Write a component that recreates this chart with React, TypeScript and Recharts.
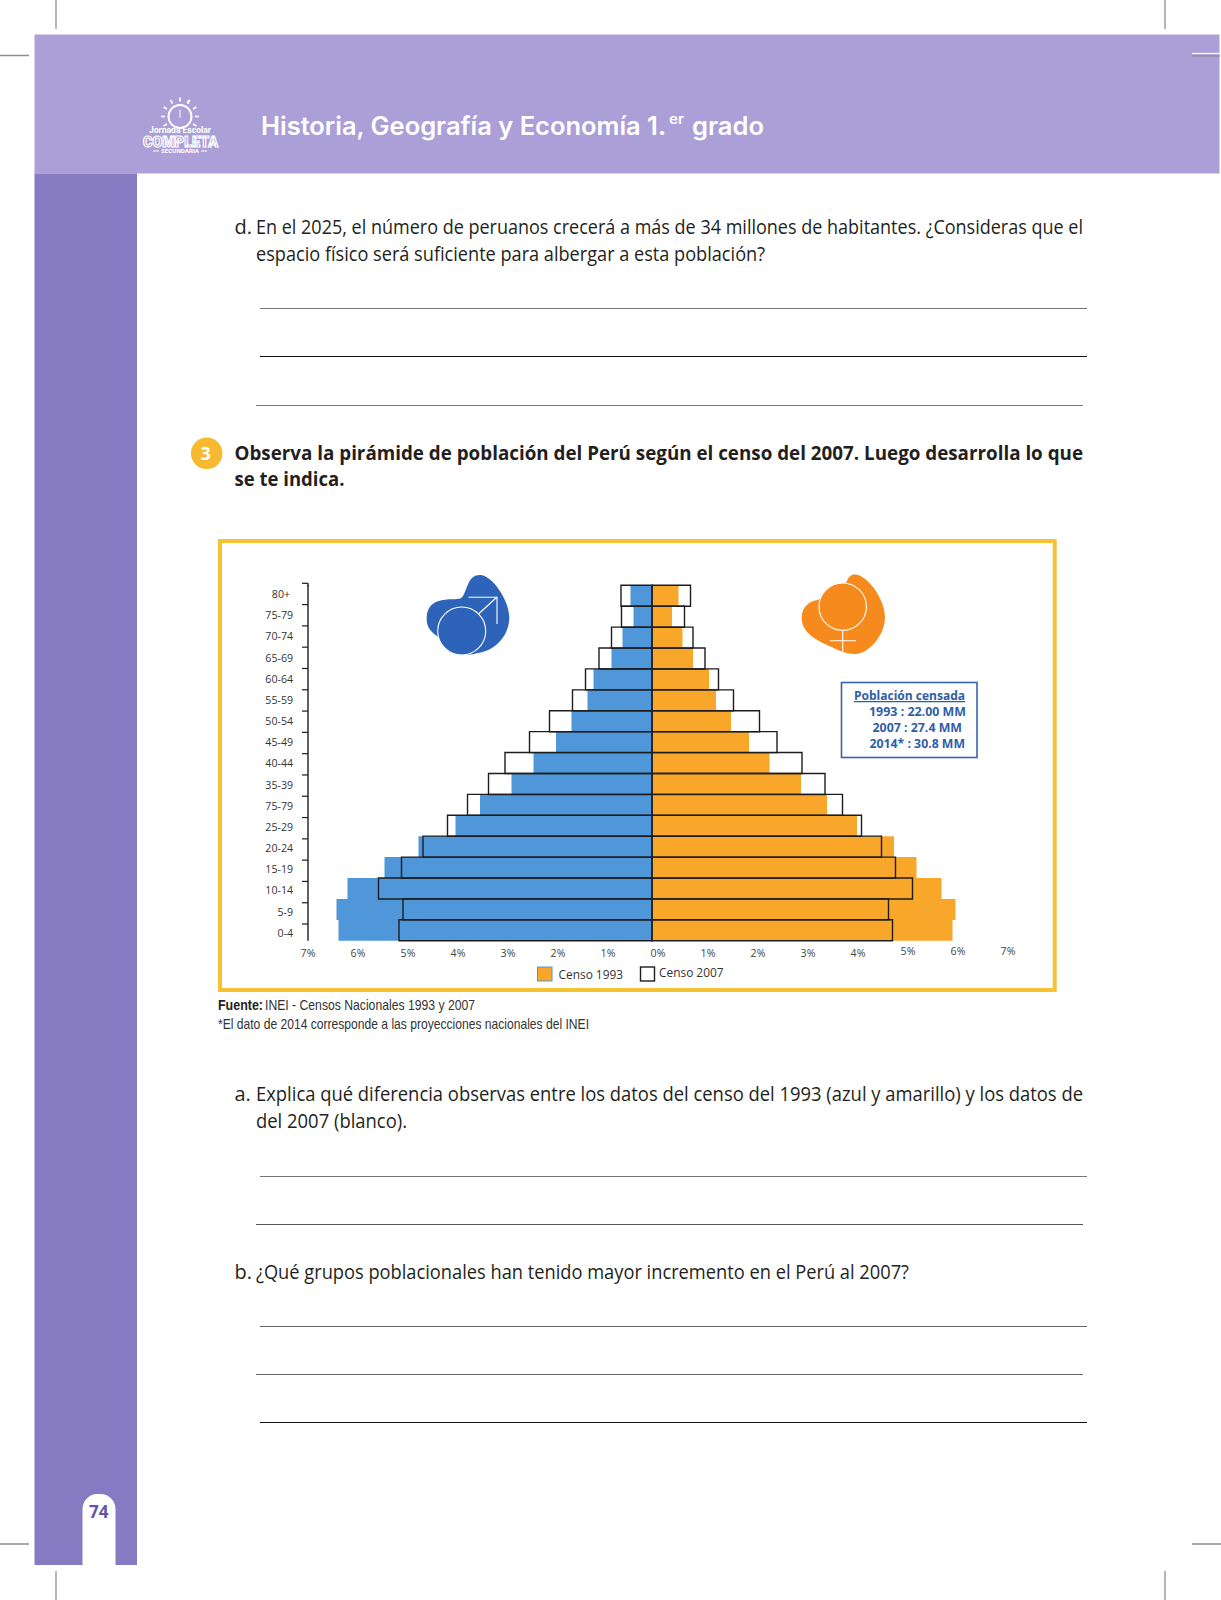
import React from "react";
import { BarChart, Bar, XAxis, YAxis, Legend } from "recharts";

const ageGroups = ["80+", "75-79", "70-74", "65-69", "60-64", "55-59", "50-54", "45-49", "40-44", "35-39", "75-79", "25-29", "20-24", "15-19", "10-14", "5-9", "0-4"];
const male1993 = [0.43, 0.37, 0.59, 0.81, 1.17, 1.29, 1.61, 1.92, 2.37, 2.81, 3.44, 3.93, 4.67, 5.35, 6.09, 6.31, 6.27];
const male2007 = [0.62, 0.61, 0.81, 1.06, 1.33, 1.59, 2.05, 2.45, 2.94, 3.27, 3.69, 4.09, 4.58, 5.01, 5.47, 4.98, 5.06];
const female1993 = [0.53, 0.4, 0.61, 0.82, 1.14, 1.28, 1.58, 1.94, 2.35, 2.98, 3.5, 4.1, 4.84, 5.29, 5.79, 6.07, 6.01];
const female2007 = [0.77, 0.65, 0.82, 1.06, 1.33, 1.63, 2.15, 2.5, 3.0, 3.46, 3.81, 4.19, 4.59, 4.87, 5.21, 4.73, 4.81];
const axisTicks = [-7, -6, -5, -4, -3, -2, -1, 0, 1, 2, 3, 4, 5, 6, 7];

const tableRows = ageGroups.map((age, i) => ({
  age,
  m93: -male1993[i],
  f93: female1993[i],
  m07: -male2007[i],
  f07: female2007[i],
}));

const BLUE = "#4f97d8";
const ORANGE = "#f9a72b";
const OUTLINE = "#1d1d1f";
const BODY = '"Open Sans", sans-serif';
const NARROW = '"Liberation Sans Narrow", "Liberation Sans", sans-serif';
const ROW = 355.4 / 17;

function AgeTick(props: any) {
  const { y, payload, index } = props;
  const ax = 90;
  const top = y - ROW / 2 - 2 + 0.39 * index;
  const labelY = y + 4 - 1.75 + 0.2625 * index;
  return (
    <g>
      <path d={`M${ax - 6} ${top}H${ax}`} stroke={OUTLINE} strokeWidth={1.2} fill="none" />
      {index === 0 ? <path d={`M${ax} ${top}V${top + 3}`} stroke={OUTLINE} strokeWidth={1.4} /> : null}
      <text x={payload.value === "80+" ? ax - 18 : ax - 15} y={labelY} textAnchor="end" fontFamily={BODY} fontSize={10.6} fill="#333">
        {payload.value}
      </text>
    </g>
  );
}

function PercentTick(props: any) {
  const { x, y, payload } = props;
  const v = payload.value;
  const dy = v >= 5 ? -1.5 : 0;
  return (
    <text x={x} y={y + 4 + dy} textAnchor="middle" fontFamily={BODY} fontSize={10.6} fill="#444">
      {Math.abs(v)}%
    </text>
  );
}

function LegendBox() {
  return (
    <div style={{ position: "relative", height: 0, width: 0 }}>
      <svg width={300} height={30} style={{ position: "absolute", left: 0, top: 0, overflow: "visible" }}>
        <rect x={0.5} y={0} width={14.5} height={14} fill={ORANGE} stroke={BLUE} strokeWidth={1} />
        <text x={21.5} y={11.5} fontFamily={BODY} fontSize={11.9} fill="#333">Censo 1993</text>
        <rect x={103.5} y={0} width={14} height={14} fill="#fff" stroke={OUTLINE} strokeWidth={1.4} />
        <text x={122} y={10} fontFamily={BODY} fontSize={11.9} fill="#333">Censo 2007</text>
      </svg>
    </div>
  );
}

function T(p: { x: number; y: number; len?: number; size?: number; weight?: number; fill?: string; font?: string; children: any; u?: boolean }) {
  return (
    <text
      x={p.x}
      y={p.y}
      textLength={p.len}
      lengthAdjust={p.len ? "spacingAndGlyphs" : undefined}
      fontFamily={p.font || BODY}
      fontSize={p.size || 20}
      fontWeight={p.weight || 400}
      fill={p.fill || "#231f20"}
      textDecoration={p.u ? "underline" : undefined}
      style={{ whiteSpace: "pre" }}
    >
      {p.children}
    </text>
  );
}

const sunRays = [-90, -60, -30, 0, 180, 210, 240, 300, 150, 30];

function Page() {
  return (
    <svg width={1221} height={1600} style={{ position: "absolute", left: 0, top: 0 }}>
      <rect width={1221} height={1600} fill="#fff" />
      <rect x={34.5} y={34.5} width={1185} height={139} fill="#ab9fd7" />
      <rect x={34.5} y={173.5} width={102.5} height={1391.5} fill="#867bc2" />
      <path d="M82.5 1565V1509a15 15 0 0 1 15-15h3a15 15 0 0 1 15 15V1565Z" fill="#fff" />
      <T x={89} y={1518} size={17} weight={700} fill="#5f54a8">74</T>

      <g stroke="#8f8f8f" strokeWidth={1.3}>
        <path d="M56 0V29M1165 0V29M0 55.5H29M56 1571V1600M1165 1571V1600M0 1544H29M1192 1544H1221" />
        <path d="M1192 56H1220" />
      </g>
      <path d="M1192 53.5H1220" stroke="#fff" strokeWidth={1.2} />

      <g stroke="#fff" fill="none">
        <circle cx={180} cy={116.5} r={11.5} strokeWidth={2} />
        <path d="M180 110V118" strokeWidth={1} />
        {sunRays.map((a) => {
          const r = (a * Math.PI) / 180;
          return <line key={a} x1={180 + 15 * Math.cos(r)} y1={116.5 + 15 * Math.sin(r)} x2={180 + 19 * Math.cos(r)} y2={116.5 + 19 * Math.sin(r)} strokeWidth={1.7} />;
        })}
      </g>
      <T x={149} y={133} len={62} size={8.5} weight={700} fill="#fff" font='"Roboto", sans-serif'>Jornada Escolar</T>
      <text x={143} y={146.5} textLength={75} lengthAdjust="spacingAndGlyphs" fontFamily='"Roboto", sans-serif' fontSize={14} fontWeight={900} fill="#ab9fd7" stroke="#fff" strokeWidth={1.1}>COMPLETA</text>
      <T x={161} y={152.5} len={38} size={4.8} weight={700} fill="#fff" font='"Roboto", sans-serif'>SECUNDARIA</T>
      <path d="M153 151H159M201 151H207" stroke="#fff" strokeWidth={1} />

      <T x={261} y={135} len={405} size={25} weight={600} fill="#fff" font='"Inter", sans-serif'>Historia, Geografía y Economía 1.</T>
      <T x={669} y={124} len={15} size={13} weight={600} fill="#fff" font='"Inter", sans-serif'>er</T>
      <T x={692} y={135} len={72} size={25} weight={600} fill="#fff" font='"Inter", sans-serif'>grado</T>

      <T x={234.5} y={234}>d.</T>
      <T x={256} y={234} len={827}>En el 2025, el número de peruanos crecerá a más de 34 millones de habitantes. ¿Consideras que el</T>
      <T x={256} y={261} len={509}>espacio físico será suficiente para albergar a esta población?</T>

      <g fill="none">
        <path d="M260 308.5H1087" stroke="#777" strokeWidth={1} />
        <path d="M260 356.5H1087" stroke="#111" strokeWidth={1.2} />
        <path d="M256 405.5H1083" stroke="#777" strokeWidth={1} />
        <path d="M260 1176.5H1087" stroke="#777" strokeWidth={1.2} />
        <path d="M256 1224.5H1083" stroke="#555" strokeWidth={1} />
        <path d="M260 1326.5H1087" stroke="#666" strokeWidth={1} />
        <path d="M256 1374.5H1083" stroke="#666" strokeWidth={1} />
        <path d="M260 1422.5H1087" stroke="#111" strokeWidth={1} />
      </g>

      <circle cx={206.7} cy={453.3} r={15.8} fill="#f7b92f" />
      <T x={200.5} y={460} size={18} weight={700} fill="#fff">3</T>
      <T x={234.5} y={459.5} len={848.5} weight={700}>Observa la pirámide de población del Perú según el censo del 2007. Luego desarrolla lo que</T>
      <T x={234.5} y={486} len={110} weight={700}>se te indica.</T>

      <rect x={220} y={541} width={834.7} height={449} fill="#fff" stroke="#f5c331" strokeWidth={4} />

      <path d="M480 575C492 575 509 600 509.3 617C509.5 638 492 652 477 653C470 656 450 657 440 638C430 632 426 626 426.7 617C428 603 437 600.5 447 599.5C455 599 461 600 463 596C468 588 468 575 480 575Z" fill="#2d63b8" />
      <circle cx={461.7} cy={631} r={24} fill="#2d63b8" stroke="#fff" strokeWidth={1.1} />
      <path d="M479 613.5L497 597M468.5 597.3H497V624" stroke="#fff" strokeWidth={1.1} fill="none" />

      <path d="M855 574.5C868 575 885 600 885 617C885 636 868 654 855 654C845 654 838 650 831.7 647C815 640 801.7 632 801.7 618C801.7 606 810 601 818 600C826 594 838 589 846.7 582C848 577 851 574.5 855 574.5Z" fill="#f68a1c" />
      <circle cx={842.7} cy={606.7} r={23.7} fill="#f68a1c" stroke="#fff" strokeWidth={1.1} />
      <path d="M842.7 630.4V654M830 640.7H856" stroke="#fff" strokeWidth={1.1} fill="none" />

      <rect x={841.5} y={682.5} width={135.5} height={75} fill="#fff" stroke="#3a63ad" strokeWidth={1.6} />
      <T x={854} y={700} len={111} size={12.6} weight={700} fill="#2f5ea9" u>Población censada</T>
      <T x={869} y={716} len={97} size={12.6} weight={700} fill="#2f5ea9">1993 : 22.00 MM</T>
      <T x={872.5} y={732} len={89.5} size={12.6} weight={700} fill="#2f5ea9">2007 : 27.4 MM</T>
      <T x={869.5} y={748} len={95.5} size={12.6} weight={700} fill="#2f5ea9">2014* : 30.8 MM</T>

      <T x={218} y={1010} size={14.5} weight={700} font={NARROW} len={45}>Fuente:</T>
      <T x={265} y={1010} size={14.5} font={NARROW} len={210} fill="#333">INEI - Censos Nacionales 1993 y 2007</T>
      <T x={218} y={1029} size={14.5} font={NARROW} len={371} fill="#333">*El dato de 2014 corresponde a las proyecciones nacionales del INEI</T>

      <T x={234.5} y={1101}>a.</T>
      <T x={256} y={1101} len={827}>Explica qué diferencia observas entre los datos del censo del 1993 (azul y amarillo) y los datos de</T>
      <T x={256} y={1128.3} len={151}>del 2007 (blanco).</T>
      <T x={234.5} y={1279.3}>b.</T>
      <T x={256} y={1279.3} len={653}>¿Qué grupos poblacionales han tenido mayor incremento en el Perú al 2007?</T>
    </svg>
  );
}

export default function App() {
  return (
    <div style={{ position: "absolute", left: 0, top: 0, width: 1221, height: 1600 }}>
      <Page />
      <div style={{ position: "absolute", left: 218, top: 539 }}>
        <BarChart
          width={839}
          height={453}
          data={tableRows}
          layout="vertical"
          stackOffset="sign"
          barCategoryGap={0}
          margin={{ top: 46.3, right: 49, bottom: 31.3, left: 0 }}
        >
          <XAxis xAxisId="bars" type="number" domain={[-6.88, 7.12]} hide height={0} />
          <XAxis
            xAxisId="ticks"
            type="number"
            domain={[-7, 7]}
            ticks={axisTicks}
            interval={0}
            axisLine={false}
            tickLine={false}
            tick={<PercentTick />}
            tickMargin={6}
            height={20}
            allowDataOverflow
          />
          <YAxis
            yAxisId="y93"
            type="category"
            dataKey="age"
            width={90}
            interval={0}
            tickLine={false}
            tickSize={0}
            tick={<AgeTick />}
            axisLine={{ stroke: OUTLINE, strokeWidth: 1.4 }}
          />
          <YAxis yAxisId="y07" type="category" dataKey="age" width={0} hide />
          <YAxis yAxisId="yTicks" type="category" dataKey="age" width={0} hide />
          <Legend content={<LegendBox />} wrapperStyle={{ left: 319, top: 428, width: 0, height: 0 }} />
          <Bar dataKey="m93" legendType="none" xAxisId="ticks" yAxisId="yTicks" fill="none" stroke="none" isAnimationActive={false} />
          <Bar dataKey="m93" name="Censo 1993" stackId="a93" xAxisId="bars" yAxisId="y93" fill={BLUE} isAnimationActive={false} />
          <Bar dataKey="f93" name="Censo 1993" stackId="a93" xAxisId="bars" yAxisId="y93" fill={ORANGE} isAnimationActive={false} />
          <Bar dataKey="m07" name="Censo 2007" stackId="a07" xAxisId="bars" yAxisId="y07" fill="none" stroke={OUTLINE} strokeWidth={1.4} isAnimationActive={false} />
          <Bar dataKey="f07" name="Censo 2007" stackId="a07" xAxisId="bars" yAxisId="y07" fill="none" stroke={OUTLINE} strokeWidth={1.4} isAnimationActive={false} />
        </BarChart>
      </div>
    </div>
  );
}
